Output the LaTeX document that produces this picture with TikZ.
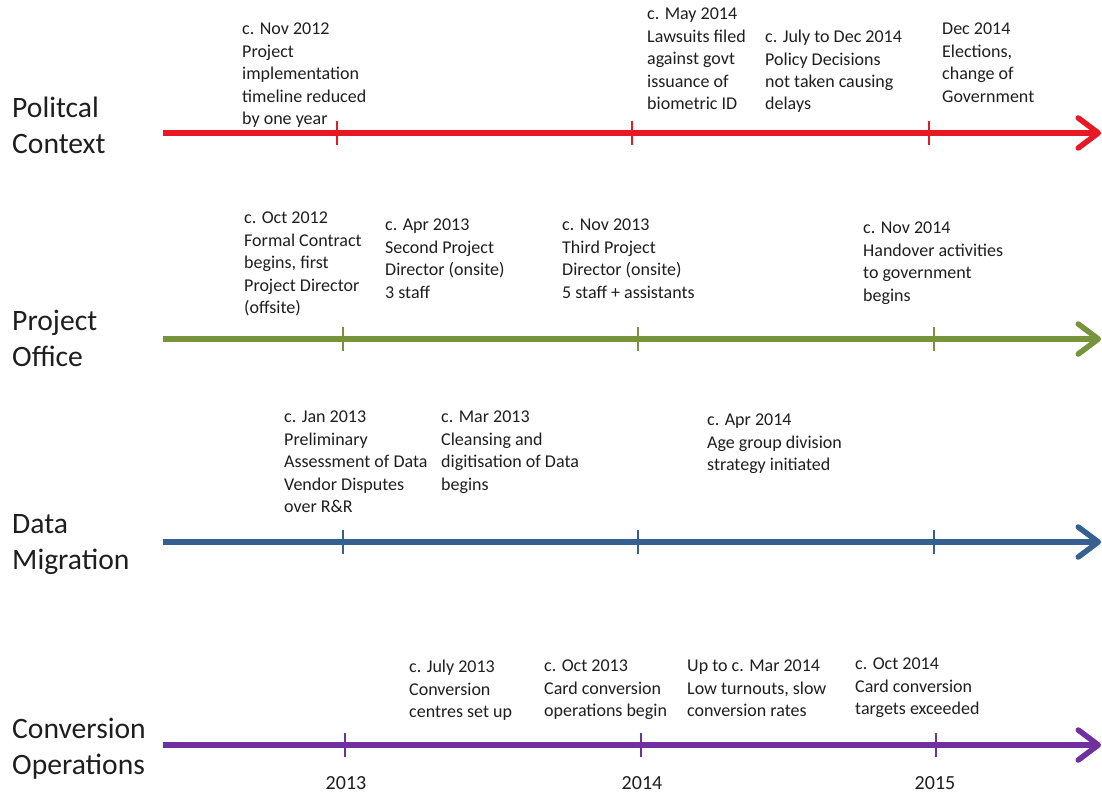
\documentclass[tikz,border=0pt]{standalone}
\usepackage{fontspec}
\setmainfont{Carlito}
\usetikzlibrary{arrows.meta}
\definecolor{polred}{RGB}{232,24,36}
\definecolor{offgreen}{RGB}{119,147,60}
\definecolor{migblue}{RGB}{55,96,146}
\definecolor{convpurple}{RGB}{112,48,160}
\definecolor{txt}{RGB}{30,30,30}
\tikzset{
  axisline/.style={line width=5.5pt,-{Straight Barb[length=20pt,width=30pt,round]}},
  tickmark/.style={line width=1.5pt},
  note/.style={anchor=north west,inner sep=0pt,align=left,text=txt,
    font=\fontsize{18}{22.4}\selectfont},
  track/.style={anchor=north west,inner sep=0pt,align=left,text=txt,
    font=\fontsize{29.6}{36}\selectfont},
  yearlbl/.style={inner sep=0pt,text=txt,font=\fontsize{20}{24}\selectfont},
}
\begin{document}
\begin{tikzpicture}[x=1pt,y=-1pt]
\useasboundingbox (0,0) rectangle (1102,794);

% ---- Political context ----
\coordinate (r0) at (163,133); \coordinate (r1) at (1101,133);
\draw[axisline,polred] (r0) -- (r1);
\foreach \x [count=\i] in {337,632,929}{
  \coordinate (rt\i a) at (\x,121); \coordinate (rt\i b) at (\x,145);
  \draw[tickmark,polred] (rt\i a) -- (rt\i b);}
\node[track] (polLbl) at (12,97) {Politcal\\Context};
\node[note] (pol1) at (242,23) {c. Nov 2012\\Project\\implementation\\timeline reduced\\by one year};
\node[note] (pol2) at (647,8) {c. May 2014\\Lawsuits filed\\against govt\\issuance of\\biometric ID};
\node[note] (pol3) at (765,30) {c. July to Dec 2014\\Policy Decisions\\not taken causing\\delays};
\node[note] (pol4) at (942,23) {Dec 2014\\Elections,\\change of\\Government};

% ---- Project office ----
\coordinate (g0) at (163,339); \coordinate (g1) at (1101,339);
\draw[axisline,offgreen] (g0) -- (g1);
\foreach \x [count=\i] in {343,638,934}{
  \coordinate (gt\i a) at (\x,327); \coordinate (gt\i b) at (\x,351);
  \draw[tickmark,offgreen] (gt\i a) -- (gt\i b);}
\node[track] (offLbl) at (12,310) {Project\\Office};
\node[note] (off1) at (244,212) {c. Oct 2012\\Formal Contract\\begins, first\\Project Director\\(offsite)};
\node[note] (off2) at (385,219) {c. Apr 2013\\Second Project\\Director (onsite)\\3 staff};
\node[note] (off3) at (562,219) {c. Nov 2013\\Third Project\\Director (onsite)\\5 staff + assistants};
\node[note] (off4) at (863,222) {c. Nov 2014\\Handover activities\\to government\\begins};

% ---- Data migration ----
\coordinate (b0) at (163,542); \coordinate (b1) at (1101,542);
\draw[axisline,migblue] (b0) -- (b1);
\foreach \x [count=\i] in {343,638,934}{
  \coordinate (bt\i a) at (\x,530); \coordinate (bt\i b) at (\x,554);
  \draw[tickmark,migblue] (bt\i a) -- (bt\i b);}
\node[track] (migLbl) at (12,514) {Data\\Migration};
\node[note] (mig1) at (284,411) {c. Jan 2013\\Preliminary\\Assessment of Data\\Vendor Disputes\\over R\&R};
\node[note] (mig2) at (441,411) {c. Mar 2013\\Cleansing and\\digitisation of Data\\begins};
\node[note] (mig3) at (707,414) {c. Apr 2014\\Age group division\\strategy initiated};

% ---- Conversion operations ----
\coordinate (p0) at (163,745); \coordinate (p1) at (1101,745);
\draw[axisline,convpurple] (p0) -- (p1);
\foreach \x [count=\i] in {345,641,936}{
  \coordinate (pt\i a) at (\x,733); \coordinate (pt\i b) at (\x,757);
  \draw[tickmark,convpurple] (pt\i a) -- (pt\i b);}
\node[track] (conLbl) at (12,718) {Conversion\\Operations};
\node[note] (con1) at (409,660) {c. July 2013\\Conversion\\centres set up};
\node[note] (con2) at (544,660) {c. Oct 2013\\Card conversion\\operations begin};
\node[note] (con3) at (687,660) {Up to c. Mar 2014\\Low turnouts, slow\\conversion rates};
\node[note] (con4) at (855,658) {c. Oct 2014\\Card conversion\\targets exceeded};

% ---- Year labels ----
\node[yearlbl] (y2013) at (346,783) {2013};
\node[yearlbl] (y2014) at (642,783) {2014};
\node[yearlbl] (y2015) at (935,783) {2015};
\end{tikzpicture}
\end{document}
